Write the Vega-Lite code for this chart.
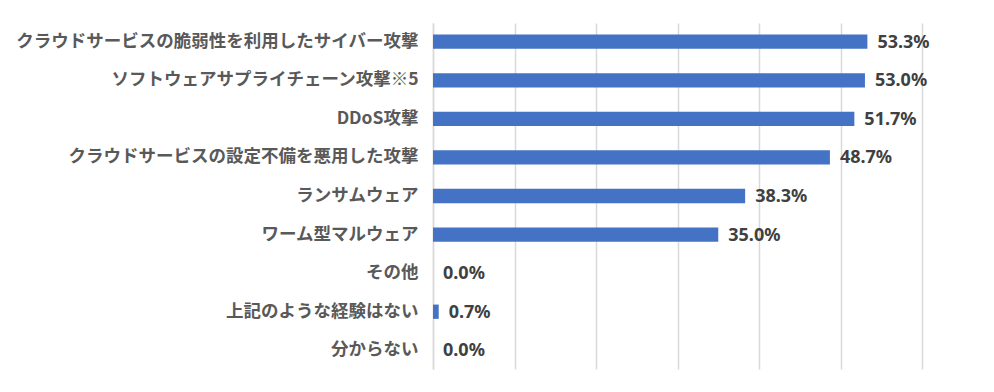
{
  "$schema": "https://vega.github.io/schema/vega-lite/v6.json",
  "width": 489,
  "height": 346,
  "padding": {"left": 433, "top": 23, "right": 72, "bottom": 23},
  "autosize": {"type": "none"},
  "background": "#ffffff",
  "config": {"view": {"stroke": null}, "font": "Noto Sans CJK JP"},
  "data": {
    "values": [
      {"label": "クラウドサービスの脆弱性を利用したサイバー攻撃", "value": 53.3, "text": "53.3%"},
      {"label": "ソフトウェアサプライチェーン攻撃※5", "value": 53.0, "text": "53.0%"},
      {"label": "DDoS攻撃", "value": 51.7, "text": "51.7%"},
      {"label": "クラウドサービスの設定不備を悪用した攻撃", "value": 48.7, "text": "48.7%"},
      {"label": "ランサムウェア", "value": 38.3, "text": "38.3%"},
      {"label": "ワーム型マルウェア", "value": 35.0, "text": "35.0%"},
      {"label": "その他", "value": 0.0, "text": "0.0%"},
      {"label": "上記のような経験はない", "value": 0.7, "text": "0.7%"},
      {"label": "分からない", "value": 0.0, "text": "0.0%"}
    ]
  },
  "encoding": {
    "y": {
      "field": "label", "type": "nominal", "sort": null,
      "scale": {"paddingInner": 0.63, "paddingOuter": 0.3},
      "axis": {
        "title": null, "ticks": false, "domain": true, "domainColor": "#d9d9d9", "domainWidth": 1.5,
        "labelFont": "Noto Sans CJK JP", "labelFontSize": 17.5, "labelFontWeight": "bold",
        "labelColor": "#595959", "labelPadding": 15, "labelLimit": 500
      }
    },
    "x": {
      "field": "value", "type": "quantitative",
      "scale": {"domain": [0, 60], "nice": false},
      "axis": {
        "title": null, "labels": false, "ticks": false, "domain": false,
        "grid": true, "gridColor": "#d9d9d9", "gridWidth": 1.5, "values": [0, 10, 20, 30, 40, 50, 60]
      }
    }
  },
  "layer": [
    {"mark": {"type": "bar", "color": "#4472C4"}},
    {
      "mark": {"type": "text", "align": "left", "baseline": "middle", "dx": 10, "dy": 1, "font": "Noto Sans", "fontSize": 18, "fontWeight": "bold", "color": "#404040"},
      "encoding": {"text": {"field": "text", "type": "nominal"}}
    }
  ]
}
